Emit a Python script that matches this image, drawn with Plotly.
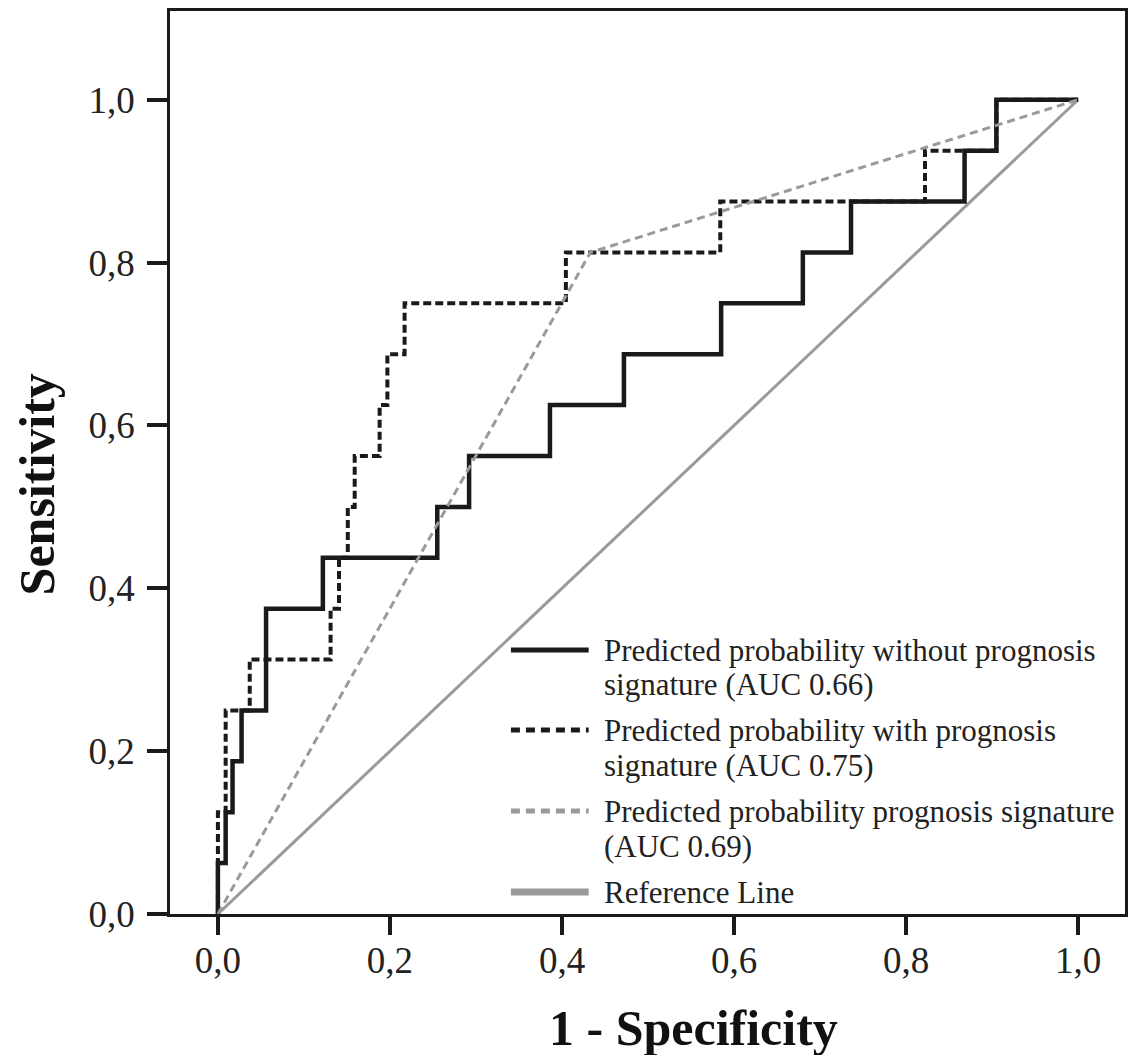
import plotly.graph_objects as go

# ROC data (1 - specificity, sensitivity)
fpr_without = [0, 0, 0.009, 0.017, 0.0275, 0.056, 0.122, 0.255, 0.292, 0.386, 0.472, 0.585, 0.680, 0.736, 0.868, 0.905, 1.0]
tpr_without = [0, 0.0625, 0.125, 0.1875, 0.25, 0.375, 0.4375, 0.5, 0.5625, 0.625, 0.6875, 0.75, 0.8125, 0.875, 0.9375, 1.0, 1.0]

fpr_with = [0, 0, 0.009, 0.037, 0.131, 0.1408, 0.151, 0.159, 0.188, 0.197, 0.217, 0.4045, 0.584, 0.822, 0.905, 1.0]
tpr_with = [0, 0.125, 0.25, 0.3125, 0.375, 0.4375, 0.5, 0.5625, 0.625, 0.6875, 0.75, 0.8125, 0.875, 0.9375, 1.0, 1.0]

fpr_sig = [0, 0.433, 1.0]
tpr_sig = [0, 0.8125, 1.0]

fpr_ref = [0, 1]
tpr_ref = [0, 1]

tick_vals = [0, 0.2, 0.4, 0.6, 0.8, 1.0]
tick_text = ["0,0", "0,2", "0,4", "0,6", "0,8", "1,0"]

legend_labels = [
    ["Predicted probability without prognosis", "signature (AUC 0.66)"],
    ["Predicted probability with prognosis", "signature (AUC 0.75)"],
    ["Predicted probability prognosis signature", "(AUC 0.69)"],
    ["Reference Line"],
]

BLACK = "#1a1a1a"
GRAY = "#9a9a9a"
SERIF = "Liberation Serif, Times New Roman, serif"

styles = [
    dict(color=BLACK, width=4.5, dash="solid"),
    dict(color=BLACK, width=4, dash="8px,4px"),
    dict(color=GRAY, width=3, dash="8px,5px"),
    dict(color=GRAY, width=3, dash="solid"),
]

fig = go.Figure()
fig.add_trace(go.Scatter(x=fpr_ref, y=tpr_ref, mode="lines", line=styles[3], showlegend=False))
fig.add_trace(go.Scatter(x=fpr_without, y=tpr_without, mode="lines", line_shape="hv", line=styles[0], showlegend=False))
fig.add_trace(go.Scatter(x=fpr_with, y=tpr_with, mode="lines", line_shape="hv", line=styles[1], showlegend=False))
fig.add_trace(go.Scatter(x=fpr_sig, y=tpr_sig, mode="lines", line=styles[2], showlegend=False))

# plot area in pixels: x 170..1128, y 11..914
L, R, T, B = 170, 1128, 11, 914
W, H = R - L, B - T

def px(xp):
    return (xp - L) / W

def py(yp):
    return (B - yp) / H

# manual legend
row_y = [650, 730, 811, 892]
line_gap = 35
legend_dash = ["solid", "9px,6px", "9px,6px", "solid"]
legend_width = [5, 5, 5, 7]
for i, labels in enumerate(legend_labels):
    st = styles[i]
    fig.add_shape(type="line", xref="paper", yref="paper",
                  x0=px(512), x1=px(590), y0=py(row_y[i]), y1=py(row_y[i]),
                  line=dict(color=st["color"], width=legend_width[i], dash=legend_dash[i]))
    for j, t in enumerate(labels):
        fig.add_annotation(text=t, xref="paper", yref="paper",
                           x=px(603), y=py(row_y[i] + j * line_gap),
                           xanchor="left", yanchor="middle", showarrow=False,
                           font=dict(family=SERIF, size=31, color="#222222"))

# axis titles
fig.add_annotation(text="<b>1 - Specificity</b>", xref="paper", yref="paper",
                   x=px(695), y=py(1028), xanchor="center", yanchor="middle",
                   showarrow=False, font=dict(family=SERIF, size=50, color="#111111"))
fig.add_annotation(text="<b>Sensitivity</b>", xref="paper", yref="paper",
                   x=px(37), y=py(484), xanchor="center", yanchor="middle", textangle=-90,
                   showarrow=False, font=dict(family=SERIF, size=50, color="#111111"))

axis_common = dict(
    showgrid=False, zeroline=False, showline=True, mirror=True,
    linecolor=BLACK, linewidth=2.5, ticks="outside", tickcolor=BLACK, tickwidth=4,
    tickvals=tick_vals, ticktext=tick_text,
    tickfont=dict(family=SERIF, size=37, color="#222222"),
)

fig.update_xaxes(range=[-0.0557, 1.0545], ticklen=18, ticklabelstandoff=-6, **axis_common)
fig.update_yaxes(range=[0, 1.109], ticklen=20, ticklabelstandoff=5, **axis_common)

fig.update_layout(
    width=1130, height=1055,
    margin=dict(l=L, r=1130 - R, t=T, b=1055 - B),
    plot_bgcolor="white", paper_bgcolor="white",
    showlegend=False,
)

fig.write_html("out.html", config={"displayModeBar": False},
               post_script="document.body.style.margin='0';document.body.style.overflow='hidden';")
